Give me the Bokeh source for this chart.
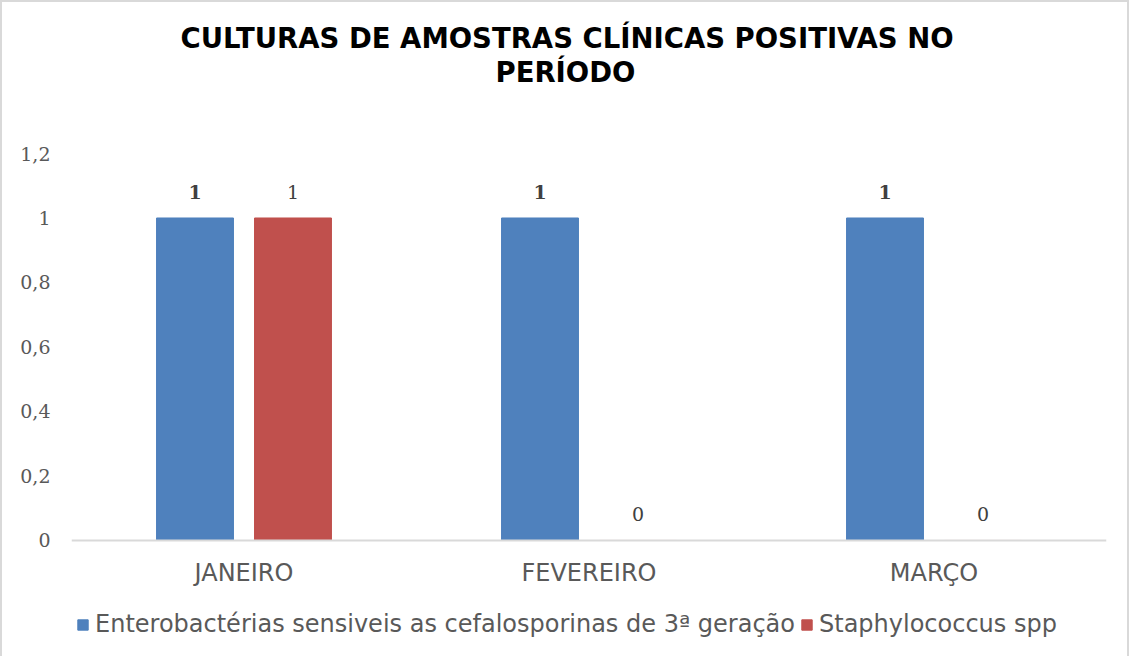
from bokeh.plotting import figure
from bokeh.models import (FactorRange, Range1d, FixedTicker, CustomJSTickFormatter,
                          Title, Legend, LegendItem, ColumnDataSource)
from bokeh.transform import dodge
from bokeh.core.properties import value
from bokeh.embed import file_html
from bokeh.resources import INLINE

# ---- data ----
categories = ["JANEIRO", "FEVEREIRO", "MARÇO"]
series_names = ["Enterobactérias sensiveis as cefalosporinas de 3ª geração", "Staphylococcus spp"]
entero = [1, 1, 1]
staph = [1, 0, 0]
y_ticks = [0, 0.2, 0.4, 0.6, 0.8, 1.0, 1.2]
title_lines = ["CULTURAS DE AMOSTRAS CLÍNICAS POSITIVAS NO", "PERÍODO"]

BLUE = "#4f81bd"
RED = "#c0504d"
GREY_TXT = "#595959"

src = ColumnDataSource(dict(
    cat=categories,
    entero=entero,
    staph=staph,
    entero_lbl=[str(v) for v in entero],
    staph_lbl=[str(v) for v in staph],
))

# the plotting frame extends below zero so the category labels and legend
# can sit inside it (values axis still runs 0 .. 1.2)
p = figure(x_range=FactorRange(*categories), y_range=Range1d(-0.3597, 1.2),
           frame_width=1035, frame_height=503, output_backend="svg", toolbar_location=None,
           min_border_left=69, min_border_right=21, min_border_top=151, min_border_bottom=0)
p.styles = {"border-top": "2px solid #d9d9d9", "border-left": "2px solid #d9d9d9",
            "border-right": "2px solid #d9d9d9", "box-sizing": "border-box"}
p.outline_line_color = None
p.background_fill_color = "white"
p.border_fill_color = "white"

def mk_title(txt, standoff, offset):
    return Title(text=txt, align="left", text_font="DejaVu Sans",
                 text_font_size="27.5px", text_font_style="bold", text_color="black",
                 standoff=standoff, offset=offset)

# stacked from the frame outward
p.add_layout(mk_title(" ", 32, 0), "above")
p.add_layout(mk_title(title_lines[1], 0, 424), "above")
p.add_layout(mk_title(title_lines[0], 0, 109), "above")

off = 0.142
w = 0.223
r1 = p.vbar(x=dodge("cat", -off, range=p.x_range), top="entero", width=w, source=src,
            fill_color=BLUE, line_color=BLUE)
r2 = p.vbar(x=dodge("cat", off, range=p.x_range), top="staph", width=w, source=src,
            fill_color=RED, line_color=RED)

p.text(x=dodge("cat", -off, range=p.x_range), y="entero", text="entero_lbl", source=src,
       text_align="center", text_baseline="bottom", y_offset=-19,
       text_font=value("DejaVu Serif"), text_font_size="19px", text_font_style="bold",
       text_color="#404040")
p.text(x=dodge("cat", off, range=p.x_range), y="staph", text="staph_lbl", source=src,
       text_align="center", text_baseline="bottom", y_offset=-19,
       text_font=value("DejaVu Serif"), text_font_size="19px",
       text_color="#404040")

# axes
p.xgrid.grid_line_color = None
p.ygrid.grid_line_color = None

xa = p.xaxis[0]
xa.fixed_location = 0
xa.axis_line_color = "#d9d9d9"
xa.axis_line_width = 2
xa.major_tick_line_color = None
xa.minor_tick_line_color = None
xa.major_label_text_font = "DejaVu Sans"
xa.major_label_text_font_size = "24px"
xa.major_label_text_color = GREY_TXT
xa.major_label_standoff = 13

ya = p.yaxis[0]
ya.ticker = FixedTicker(ticks=y_ticks)
ya.formatter = CustomJSTickFormatter(code="""
    let s = (Math.round(tick*10)/10).toString();
    return s.replace('.', ',');
""")
ya.axis_line_color = None
ya.major_tick_line_color = None
ya.minor_tick_line_color = None
ya.major_label_text_font = "DejaVu Serif"
ya.major_label_text_font_size = "19px"
ya.major_label_text_color = GREY_TXT
ya.major_label_standoff = 15

legend = Legend(items=[LegendItem(label=series_names[0], renderers=[r1]),
                       LegendItem(label=series_names[1], renderers=[r2])],
                orientation="horizontal", location=(5, 18),
                label_text_font="DejaVu Sans", label_text_font_size="24px",
                label_text_color=GREY_TXT, glyph_width=13, glyph_height=13,
                label_standoff=6, spacing=5, padding=0, margin=0,
                border_line_color=None, background_fill_alpha=0)
p.add_layout(legend, "center")

open("out.html", "w").write(file_html(p, INLINE))
